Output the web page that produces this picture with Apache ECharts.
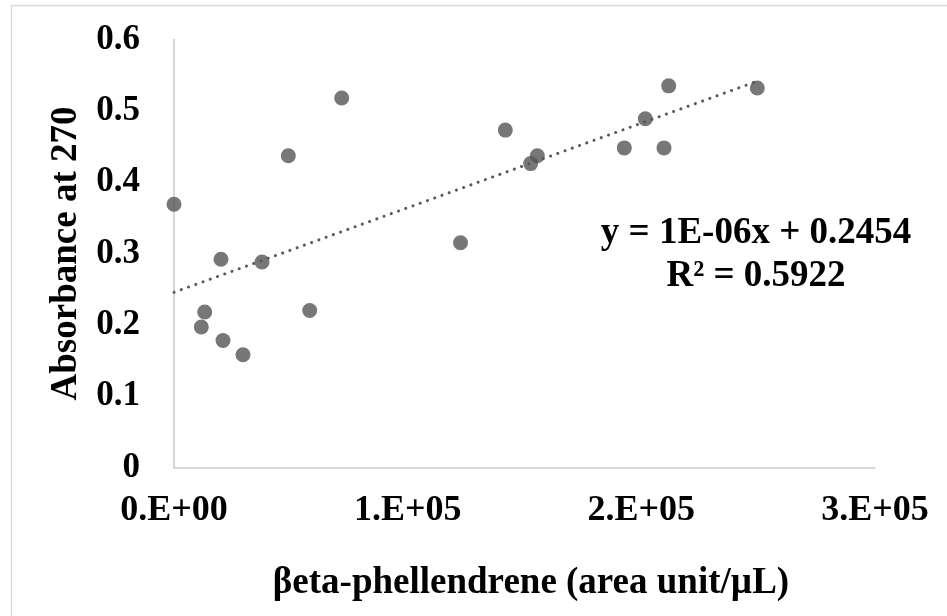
<!DOCTYPE html>
<html>
<head>
<meta charset="utf-8">
<script src="https://cdn.jsdelivr.net/npm/echarts@6/dist/echarts.min.js"></script>
<style>
html,body{margin:0;padding:0;background:#fff;}
#chart{width:947px;height:616px;}
</style>
</head>
<body>
<div id="chart"></div>
<script>
// Data
const phellandrene = [0, 71770, 48920, 20110, 37660, 13140, 11680, 20970, 29530, 58070, 122610, 141790, 155480, 152650, 192710, 201700, 211710, 209700, 249630];
const absorbance   = [0.369, 0.518, 0.437, 0.292, 0.288, 0.218, 0.197, 0.178, 0.158, 0.220, 0.315, 0.473, 0.437, 0.426, 0.448, 0.489, 0.535, 0.448, 0.532];
const xTickLabels = ['0.E+00', '1.E+05', '2.E+05', '3.E+05'];
const yTickLabels = ['0', '0.1', '0.2', '0.3', '0.4', '0.5', '0.6'];
const equationLines = ['y = 1E-06x + 0.2454', 'R² = 0.5922'];
const xTitle = 'βeta-phellendrene (area unit/µL)';
const yTitle = 'Absorbance at 270';

// least-squares trendline from the data
const n = phellandrene.length;
const mx = phellandrene.reduce((a, b) => a + b, 0) / n;
const my = absorbance.reduce((a, b) => a + b, 0) / n;
let sxy = 0, sxx = 0;
for (let i = 0; i < n; i++) { sxy += (phellandrene[i] - mx) * (absorbance[i] - my); sxx += (phellandrene[i] - mx) ** 2; }
const slope = sxy / sxx, intercept = my - slope * mx;
const xMin = Math.min(...phellandrene), xMax = Math.max(...phellandrene);
const trend = [[xMin, intercept + slope * xMin], [xMax, intercept + slope * xMax]];

const FONT = '"Liberation Serif", "Times New Roman", serif';
const chart = echarts.init(document.getElementById('chart'));
chart.setOption({
  animation: false,
  backgroundColor: '#ffffff',
  textStyle: { fontFamily: FONT },
  grid: { left: 174, top: 39.5, right: 72, bottom: 148.5 },
  xAxis: {
    type: 'value', min: 0, max: 300000, interval: 100000,
    axisLine: { show: true, lineStyle: { color: '#c9c9c9', width: 1.5 } },
    axisTick: { show: false },
    splitLine: { show: false },
    axisLabel: {
      margin: 25, color: '#000', fontFamily: FONT, fontWeight: 'bold', fontSize: 36,
      formatter: (v) => xTickLabels[Math.round(v / 100000)]
    },
    name: xTitle, nameLocation: 'middle', nameGap: 97,
    nameTextStyle: { color: '#000', fontFamily: FONT, fontWeight: 'bold', fontSize: 37, padding: [0, 0, 0, 13] }
  },
  yAxis: {
    type: 'value', min: 0, max: 0.6, interval: 0.1,
    axisLine: { show: true, lineStyle: { color: '#c9c9c9', width: 1.5 } },
    axisTick: { show: false },
    splitLine: { show: false },
    axisLabel: {
      margin: 34, color: '#000', fontFamily: FONT, fontWeight: 'bold', fontSize: 35,
      formatter: (v) => yTickLabels[Math.round(v * 10)]
    },
    name: yTitle, nameLocation: 'middle', nameGap: 87,
    nameTextStyle: { color: '#000', fontFamily: FONT, fontWeight: 'bold', fontSize: 37 }
  },
  graphic: [
    { type: 'rect', shape: { x: 11.5, y: 5.5, width: 1000, height: 700 }, style: { fill: 'none', stroke: '#d9d9d9', lineWidth: 1.5 }, silent: true },
    { type: 'text', x: 756, y: 233, style: { text: equationLines[0], font: 'bold 37px ' + FONT, fill: '#000', align: 'center', verticalAlign: 'middle' } },
    { type: 'text', x: 756, y: 276, style: { text: equationLines[1], font: 'bold 37px ' + FONT, fill: '#000', align: 'center', verticalAlign: 'middle' } }
  ],
  series: [
    {
      type: 'line', data: trend, symbol: 'none', z: 1,
      lineStyle: { color: '#595959', width: 3, type: [0.1, 7.6], cap: 'round' }
    },
    {
      type: 'scatter', data: phellandrene.map((x, i) => [x, absorbance[i]]),
      symbol: 'circle', symbolSize: 15, z: 2,
      itemStyle: { color: '#555555' }
    }
  ]
});
</script>
</body>
</html>
